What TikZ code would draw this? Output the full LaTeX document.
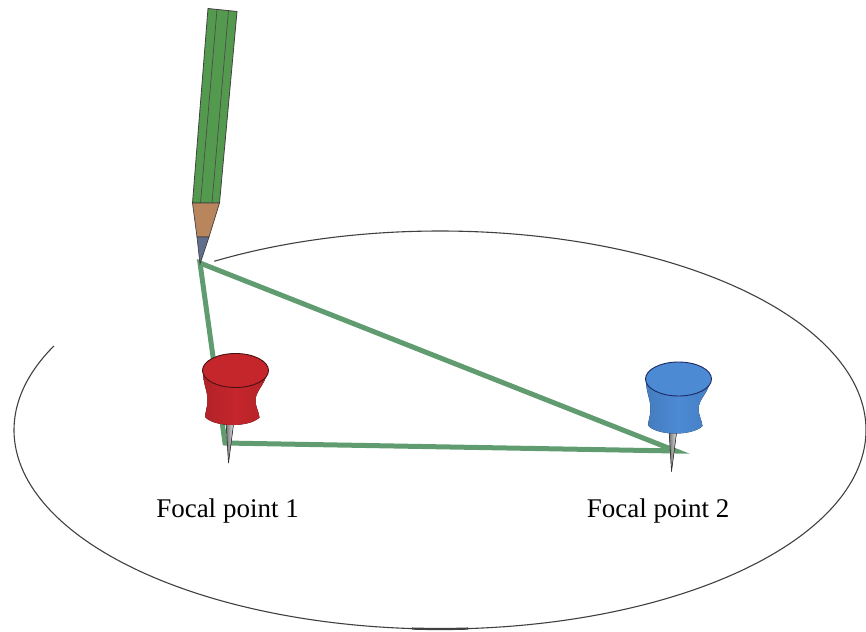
\documentclass[tikz,border=0pt]{standalone}
\usepackage{fontspec}
\setmainfont{Liberation Serif}
\definecolor{stringgreen}{RGB}{96,156,112}
\definecolor{pencilgreen}{RGB}{84,154,78}
\definecolor{woodbrown}{RGB}{184,133,92}
\definecolor{leadgrey}{RGB}{98,110,142}
\definecolor{pinred}{RGB}{196,38,44}
\definecolor{pinrededge}{RGB}{70,18,20}
\definecolor{pinblue}{RGB}{76,138,212}
\definecolor{pinblueedge}{RGB}{30,40,100}
\begin{document}
\begin{tikzpicture}[x=1pt,y=-1pt,
  curve/.style={draw=black!75, line width=1.1pt},
  loopstring/.style={draw=stringgreen, line width=5pt, line join=miter},
  label/.style={font=\fontsize{27}{32}\selectfont, anchor=base, inner sep=0pt},
  pencilline/.style={draw=black!70, line width=0.7pt},
  pics/pushpin/.style 2 args={code={
    % needle
    \filldraw[left color=black!55, right color=black!8, draw=black!80, line width=0.6pt]
      (-9.5,50) -- (-1.5,50) -- (-7,92.5) -- cycle;
    % waisted body
    \fill[left color=#1!90!black, right color=#1!92!black, middle color=#1]
      (-32.5,2) .. controls (-32,15) and (-28,20) .. (-28,30)
      .. controls (-28,38) and (-31,42) .. (-30,47)
      .. controls (-20,57) and (14,57) .. (24,47)
      .. controls (23,40) and (20,36) .. (20,30)
      .. controls (20,20) and (30,14) .. (31.5,2) -- cycle;
    % top of the head
    \filldraw[fill=#1, draw=#2, line width=0.9pt] (0,0) ellipse [x radius=33, y radius=17];
  }}
]
\useasboundingbox (0,0) rectangle (866,631);

% the traced curve, still open near the pencil
\draw[curve] plot[domain=238:565, samples=240, smooth] ({440+426*cos(\x)}, {430+199*sin(\x)});
\draw[curve, line width=2.2pt] plot[domain=86.2:93.8, samples=20, smooth] ({440+426*cos(\x)}, {430+199*sin(\x)});

% string loop: pencil tip, first pin, second pin
\coordinate (tip) at (200,263);
\coordinate (f1) at (225,443);
\coordinate (f2) at (676,451);
\draw[loopstring] (tip) -- (f1) -- (f2) -- cycle;

% push pins
\pic at (235.5,370.5) {pushpin={pinred}{pinrededge}};
\pic at (678.5,379) {pushpin={pinblue}{pinblueedge}};

% pencil
\filldraw[fill=pencilgreen, draw=black!75, line width=0.8pt]
  (208,8.5) -- (237,11.5) -- (219.5,203) -- (192.5,203) -- cycle;
\draw[pencilline] (217,9.5) -- (200.5,203);
\draw[pencilline] (228.5,10.5) -- (212,203);
\filldraw[fill=woodbrown, draw=black!75, line width=0.7pt]
  (192.5,203) -- (219.5,203) -- (209,237) -- (197,237) -- cycle;
\filldraw[fill=leadgrey, draw=black!75, line width=0.7pt]
  (197,237) -- (209,237) -- (200,264) -- cycle;

% labels
\node[label] (l1) at (227.5,517) {Focal point 1};
\node[label] (l2) at (658,517) {Focal point 2};
\end{tikzpicture}
\end{document}
